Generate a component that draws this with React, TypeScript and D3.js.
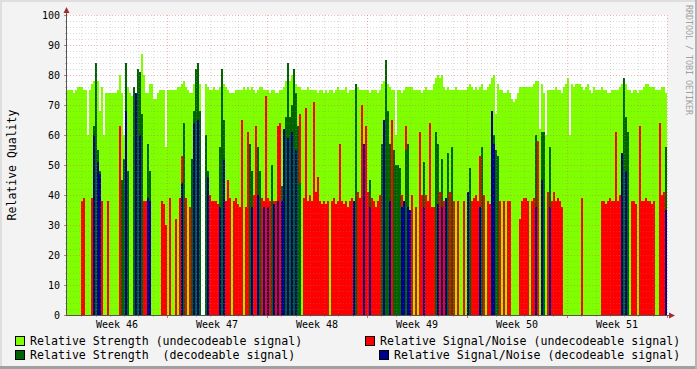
import React from "react";
import * as d3 from "d3";

// 2-pixel time slots, 50 per week (Week 46 .. Week 51)
const weekLabels = ["Week 46", "Week 47", "Week 48", "Week 49", "Week 50", "Week 51"];
const yTicks = [0, 10, 20, 30, 40, 50, 60, 70, 80, 90, 100];

const strengthUndecodeable = [
  75,75,75,74,75,76,76,76,75,75, 60,75,77,78,78,78,68,76,60,74, 74,74,74,74,74,75,80,74,60,77, 76,74,73,75,74,74,80,87,80,74, 74,77,77,72,72,74,75,75,75,56,
  75,75,75,75,75,76,76,77,78,76, 75,74,74,77,78,77,77,0,0,77, 76,75,75,76,75,75,76,75,77,76, 75,74,74,74,75,75,75,75,76,75, 76,75,76,75,74,75,76,76,75,75,
  75,74,75,75,74,74,75,75,76,78, 80,78,80,79,77,76,76,75,75,75, 76,75,75,75,75,74,75,75,74,75, 74,75,75,74,75,76,75,75,75,76, 74,75,75,75,77,76,75,75,75,75,
  75,74,75,75,75,74,75,77,78,78, 77,76,75,75,60,75,75,74,75,76, 76,76,76,75,75,75,75,74,75,76, 75,75,75,77,79,80,79,80,76,75, 76,75,75,75,76,75,75,75,75,75,
  76,77,76,75,76,75,76,77,75,75, 76,77,79,80,67,77,75,75,74,74, 75,74,72,71,72,74,76,76,76,76, 76,76,76,77,78,78,62,77,74,60, 75,75,75,75,76,75,75,74,76,77,
  79,60,77,76,77,77,77,76,75,76, 77,75,74,76,75,75,75,76,75,75, 74,74,75,75,75,75,76,77,79,77, 75,75,74,75,75,74,75,75,76,77, 77,76,76,76,75,75,75,76,76,74,
];
const snrUndecodeable = [
  0,0,0,0,0,0,0,38,39,0, 0,0,39,0,0,0,0,38,0,0, 38,0,0,0,0,0,63,0,0,0, 0,0,0,0,0,0,0,0,38,38, 0,39,0,0,0,0,0,38,37,30,
  0,39,0,0,32,0,39,53,0,39, 0,36,0,0,0,0,0,0,0,0, 0,40,38,38,38,37,0,0,38,38, 45,39,0,38,39,37,36,65,0,36, 61,38,41,40,63,40,38,39,38,73,
  39,38,0,38,38,63,64,0,0,0, 0,0,0,0,0,0,67,0,39,69, 38,40,38,71,41,46,38,37,38,37, 38,0,38,39,37,38,57,38,37,38, 36,38,39,38,0,41,39,70,0,63,
  41,0,39,38,36,38,40,0,0,0, 0,0,65,48,0,0,44,40,38,63, 0,0,40,0,36,0,61,40,0,40, 38,64,36,36,0,0,41,0,38,0, 0,41,40,38,0,38,0,0,38,0,
  0,38,38,39,40,38,53,44,40,0, 38,37,0,0,0,38,38,0,38,0, 38,38,0,0,0,0,32,38,39,39, 38,0,38,39,0,58,0,0,38,0, 41,0,38,41,38,39,38,36,0,0,
  0,0,0,0,0,0,0,39,0,0, 0,0,0,0,0,0,0,38,38,37, 38,39,38,38,61,38,40,38,0,0, 41,0,38,38,37,0,63,38,38,39, 38,38,37,38,0,0,64,40,41,0,
];
const strengthDecodeable = [
  0,0,0,0,0,0,0,0,0,0, 0,0,0,63,84,55,48,0,0,0, 0,0,0,0,0,0,0,45,52,84, 48,0,0,76,74,82,81,67,0,0, 57,48,0,0,0,0,0,0,0,0,
  0,0,0,0,0,0,0,0,64,0, 0,0,52,68,82,84,68,0,0,60, 48,0,0,0,0,0,56,82,65,0, 0,0,0,0,0,0,0,0,0,0, 0,57,48,0,0,56,48,0,0,0,
  0,0,50,0,0,0,0,43,62,66, 84,66,70,82,74,63,44,0,0,0, 0,0,0,0,0,0,0,0,0,0, 0,0,0,0,0,0,0,0,0,0, 0,0,0,0,77,0,0,0,57,0,
  0,45,0,0,0,0,0,57,65,85, 68,57,0,55,50,50,49,0,0,55, 57,0,0,0,0,0,0,0,51,0, 0,0,0,0,61,57,0,52,0,0, 54,0,56,0,0,0,0,0,0,0,
  0,49,0,0,0,0,0,56,0,0, 0,0,68,60,55,53,0,0,0,0, 0,0,0,0,0,0,0,0,0,0, 0,0,0,0,60,0,0,61,61,0, 0,56,0,0,0,0,0,0,0,0,
  0,0,0,0,0,0,0,0,0,0, 0,0,0,0,0,0,0,0,0,0, 0,0,0,0,0,0,0,0,79,66, 61,0,0,0,0,0,0,0,0,0, 0,0,0,0,0,0,0,0,0,56,
];
const snrDecodeable = [
  0,0,0,0,0,0,0,0,0,0, 0,0,0,60,0,51,47,0,0,0, 0,0,0,0,0,0,0,0,0,68, 0,0,0,0,74,0,60,0,0,0, 39,38,0,0,0,0,0,0,0,0,
  0,0,0,0,0,0,0,44,0,0, 0,0,0,64,0,65,0,0,0,0, 46,0,0,0,0,0,36,0,52,0, 0,0,0,0,0,0,0,0,0,0, 0,0,36,0,0,40,0,0,36,0,
  36,0,0,37,0,38,0,38,62,0, 59,0,61,0,55,0,0,0,0,0, 0,0,0,0,0,0,0,0,0,0, 0,0,0,0,0,0,0,0,0,0, 0,0,0,38,0,0,0,0,57,0,
  0,36,0,0,0,0,0,0,65,0, 0,38,0,0,0,0,0,36,38,0, 36,35,0,0,0,0,0,0,36,0, 0,0,0,0,0,37,0,36,0,39, 0,0,0,0,0,0,0,0,0,0,
  41,0,0,0,0,0,36,0,0,0, 0,0,68,57,0,0,0,0,0,0, 0,0,0,0,0,0,0,0,0,0, 0,0,0,0,36,0,0,45,0,0, 0,36,0,0,0,0,0,0,0,0,
  0,0,0,0,0,0,0,0,0,0, 0,0,0,0,0,0,0,0,0,0, 0,0,0,0,0,0,0,54,0,48, 0,0,0,0,0,0,0,0,0,0, 0,0,0,0,0,0,0,0,0,35,
];

const legendLeft = ["Relative Strength (undecodeable signal)", "Relative Strength  (decodeable signal)"];
const legendRight = ["Relative Signal/Noise (undecodeable signal)", "Relative Signal/Noise (decodeable signal)"];

const W = 697, H = 369;
const PL = 67, PR = 667, PT = 15, PB = 315;
const SLOTS = strengthUndecodeable.length;
const SLOTS_PER_WEEK = 50;
const FONT = "'DejaVu Sans Mono', monospace";

const C_LG = "#80ff00";
const C_DG = "#006400";
const C_RED = "#ff0000";
const C_BLUE = "#000090";

export default function App() {
  const x = d3.scaleLinear().domain([0, SLOTS]).range([PL, PR]);
  const y = d3.scaleLinear().domain([0, 100]).range([PB, PT]);

  const series: [number[], string][] = [
    [strengthUndecodeable, C_LG],
    [snrUndecodeable, C_RED],
    [strengthDecodeable, C_DG],
    [snrDecodeable, C_BLUE],
  ];

  const dayStep = SLOTS_PER_WEEK / 7;
  const days = d3.range(1, Math.round(SLOTS / dayStep)).filter((k) => k % 7 !== 0).map((k) => k * dayStep);
  const weekLines = d3.range(1, weekLabels.length + 1).map((k) => k * SLOTS_PER_WEEK);
  const minorY = d3.range(2, 101, 2).filter((v) => v % 10 !== 0);
  const majorY = yTicks.filter((v) => v > 0);

  return (
    <svg width={W} height={H} style={{ position: "absolute", left: 0, top: 0, display: "block" }} fontFamily={FONT}>
      <rect x={0} y={0} width={W} height={H} fill="#f3f3f3" />
      <rect x={0} y={0} width={W} height={2} fill="#dedede" />
      <rect x={0} y={0} width={2} height={H} fill="#dedede" />
      <rect x={0} y={H - 3} width={W} height={3} fill="#a0a0a0" />
      <rect x={W - 2} y={0} width={2} height={H} fill="#b4b4b4" />

      <rect x={PL} y={PT} width={PR - PL} height={PB - PT} fill="#ffffff" />

      {series.map(([vals, color], si) => (
        <g key={si} fill={color} shapeRendering="crispEdges">
          {vals.map((v, i) =>
            v > 0 ? (
              <rect key={i} x={x(i)} y={y(v)} width={x(i + 1) - x(i)} height={y(0) - y(v)} />
            ) : null
          )}
        </g>
      ))}

      {/* minor grid */}
      <g stroke="rgba(140,140,140,0.3)" strokeWidth={1} strokeDasharray="1,2" shapeRendering="crispEdges">
        {minorY.map((v) => (
          <line key={"my" + v} x1={PL} x2={PR} y1={y(v) + 0.5} y2={y(v) + 0.5} />
        ))}
        {days.map((d) => (
          <line key={"mx" + d} x1={Math.round(x(d)) + 0.5} x2={Math.round(x(d)) + 0.5} y1={PT} y2={PB} />
        ))}
      </g>
      {/* major grid */}
      <g stroke="rgba(230,80,80,0.42)" strokeWidth={1} strokeDasharray="1,2" shapeRendering="crispEdges">
        {majorY.map((v) => (
          <line key={"My" + v} x1={PL} x2={PR} y1={y(v) + 0.5} y2={y(v) + 0.5} />
        ))}
        {weekLines.map((d) => (
          <line key={"Mx" + d} x1={Math.round(x(d)) + 0.5} x2={Math.round(x(d)) + 0.5} y1={PT} y2={PB} />
        ))}
      </g>

      {/* ticks */}
      <g shapeRendering="crispEdges">
        {minorY.map((v) => (
          <line key={"ty" + v} x1={PL - 2} x2={PL} y1={y(v) + 0.5} y2={y(v) + 0.5} stroke="#c0c0c0" />
        ))}
        {yTicks.map((v) => (
          <line key={"TY" + v} x1={PL - 3} x2={PL} y1={y(v) + 0.5} y2={y(v) + 0.5} stroke="#d07070" />
        ))}
        {days.map((d) => (
          <line key={"tx" + d} x1={Math.round(x(d)) + 0.5} x2={Math.round(x(d)) + 0.5} y1={PB} y2={PB + 2} stroke="#c0c0c0" />
        ))}
        {weekLines.map((d) => (
          <line key={"TX" + d} x1={Math.round(x(d)) + 0.5} x2={Math.round(x(d)) + 0.5} y1={PB} y2={PB + 3} stroke="#d07070" />
        ))}
      </g>

      {/* axes */}
      <g shapeRendering="crispEdges">
        <line x1={PL - 0.5} x2={PL - 0.5} y1={PB + 1} y2={PT - 5} stroke="#555" />
        <line x1={PL - 1} x2={PR + 4} y1={PB + 0.5} y2={PB + 0.5} stroke="#555" />
      </g>
      <path d={`M${PL - 3.5},${PT - 2} L${PL - 0.5},${PT - 8} L${PL + 2.5},${PT - 2} Z`} fill="#a03030" />
      <path d={`M${PR + 2},${PB - 2.5} L${PR + 8},${PB + 0.5} L${PR + 2},${PB + 3.5} Z`} fill="#a03030" />

      {/* y tick labels */}
      {yTicks.map((v) => (
        <text key={"yl" + v} x={60} y={y(v) + 3.5} fontSize={10} textAnchor="end" fill="#000">
          {v}
        </text>
      ))}
      {/* x labels */}
      {weekLabels.map((w, k) => (
        <text key={w} x={x((k + 0.5) * SLOTS_PER_WEEK)} y={328} fontSize={10} textAnchor="middle" fill="#000">
          {w}
        </text>
      ))}

      {/* y axis title */}
      <text transform={`translate(15.5,${(PT + PB) / 2}) rotate(-90)`} fontSize={11.5} textAnchor="middle" fill="#000">
        Relative Quality
      </text>

      {/* watermark */}
      <text transform={`translate(686,60) rotate(90)`} fontSize={8.3} textAnchor="middle" fill="#a0a0a0">
        RRDTOOL / TOBI OETIKER
      </text>

      {/* legend */}
      <g fontSize={11.6} fill="#000" style={{ whiteSpace: "pre" }}>
        <rect x={15.5} y={336.5} width={9} height={9} fill={C_LG} stroke="#000" />
        <text x={30} y={345} xmlSpace="preserve">{legendLeft[0]}</text>
        <rect x={15.5} y={350.5} width={9} height={9} fill={C_DG} stroke="#000" />
        <text x={30} y={359} xmlSpace="preserve">{legendLeft[1]}</text>
        <rect x={365.5} y={336.5} width={9} height={9} fill={C_RED} stroke="#000" />
        <text x={380} y={345} xmlSpace="preserve">{legendRight[0]}</text>
        <rect x={379.5} y={350.5} width={9} height={9} fill={C_BLUE} stroke="#000" />
        <text x={394} y={359} xmlSpace="preserve">{legendRight[1]}</text>
      </g>
    </svg>
  );
}
